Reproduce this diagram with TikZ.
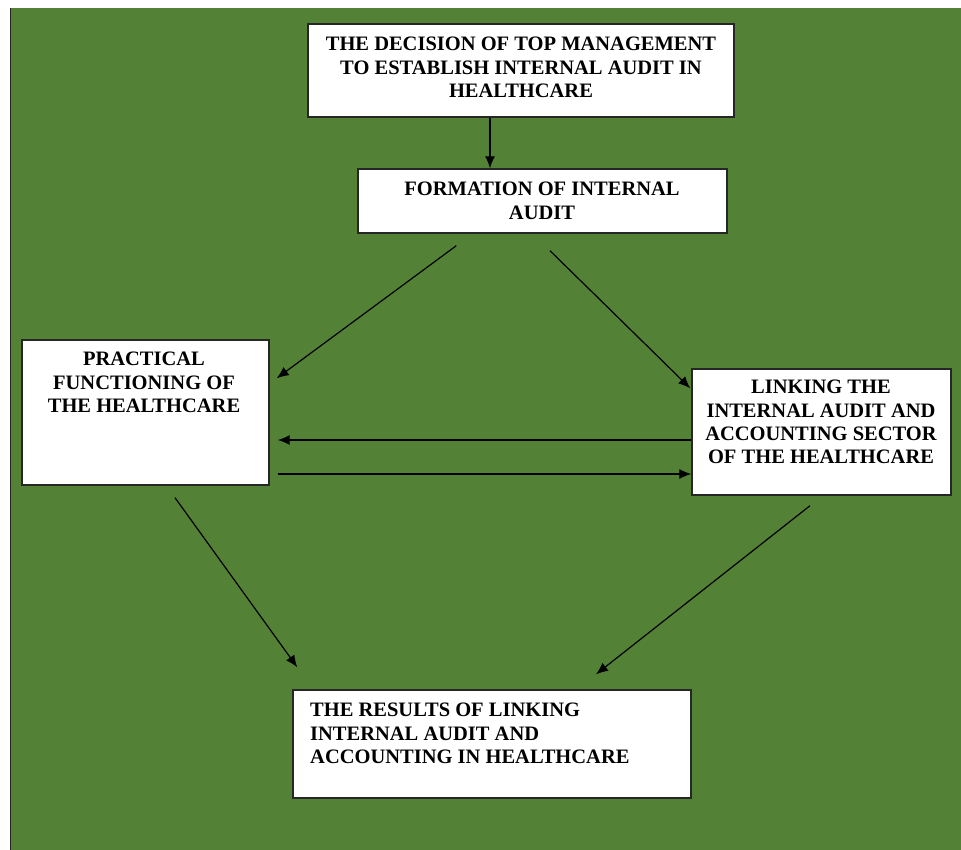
\documentclass[tikz,border=0pt]{standalone}
\usepackage{fontspec}
\setmainfont{Liberation Serif}
\usetikzlibrary{arrows.meta}
\definecolor{bggreen}{HTML}{538135}
\definecolor{edge}{HTML}{262626}
\begin{document}
\begin{tikzpicture}[x=1pt,y=-1pt,
  box/.style={draw=edge,line width=1.4pt,fill=white,inner sep=0pt},
  txt/.style={inner sep=0pt,anchor=north,font=\fontsize{20.5}{23.3}\selectfont\bfseries},
  conn/.style={draw=black,line width=1.2pt,-{Latex[length=12pt,width=10pt]}}]
\useasboundingbox (0,0) rectangle (961,850);
\fill[white] (0,0) rectangle (961,850);
\fill[bggreen] (10,8) rectangle (961,850);
\draw[edge,line width=1.6pt] (10.5,8) -- (10.5,850);
% boxes
\node[box,minimum width=426pt,minimum height=93pt] (top) at (521,70.5) {};
\node[box,minimum width=369pt,minimum height=64pt] (form) at (542.5,201) {};
\node[box,minimum width=247pt,minimum height=145pt] (prac) at (145.5,412.5) {};
\node[box,minimum width=259pt,minimum height=126pt] (link) at (821.5,432) {};
\node[box,minimum width=398pt,minimum height=108pt] (res) at (492,744) {};
% texts
\node[txt,align=center] (toptxt) at (521,37) {THE DECISION OF TOP MANAGEMENT\\TO ESTABLISH INTERNAL AUDIT IN\\HEALTHCARE};
\node[txt,align=center] (formtxt) at (542,182) {FORMATION OF INTERNAL\\AUDIT};
\node[txt,align=center] (practxt) at (144,352) {PRACTICAL\\FUNCTIONING OF\\THE HEALTHCARE};
\node[txt,align=center] (linktxt) at (821,380) {LINKING THE\\INTERNAL AUDIT AND\\ACCOUNTING SECTOR\\OF THE HEALTHCARE};
\node[txt,align=left,anchor=north west] (restxt) at (310,703) {THE RESULTS OF LINKING\\INTERNAL AUDIT AND\\ACCOUNTING IN HEALTHCARE};
% connectors
\draw[conn] ([xshift=-31pt]top.south) -- ([xshift=-52.5pt]form.north);
\draw[conn] ([xshift=99pt,yshift=-12pt]form.south west) -- ([xshift=7pt,yshift=-39pt]prac.north east);
\draw[conn] ([xshift=7.5pt,yshift=-17pt]form.south) -- ([xshift=-1pt,yshift=-20pt]link.north west);
\draw[conn] ([yshift=-8pt]link.west) -- ([xshift=8pt,yshift=-27.5pt]prac.east);
\draw[conn] ([xshift=8pt,yshift=-61.5pt]prac.east) -- ([yshift=-42pt]link.west);
\draw[conn] ([xshift=29.5pt,yshift=-12pt]prac.south) -- ([xshift=5pt,yshift=22pt]res.north west);
\draw[conn] ([xshift=-11.5pt,yshift=-10pt]link.south) -- ([xshift=104pt,yshift=15pt]res.north);
\end{tikzpicture}
\end{document}
